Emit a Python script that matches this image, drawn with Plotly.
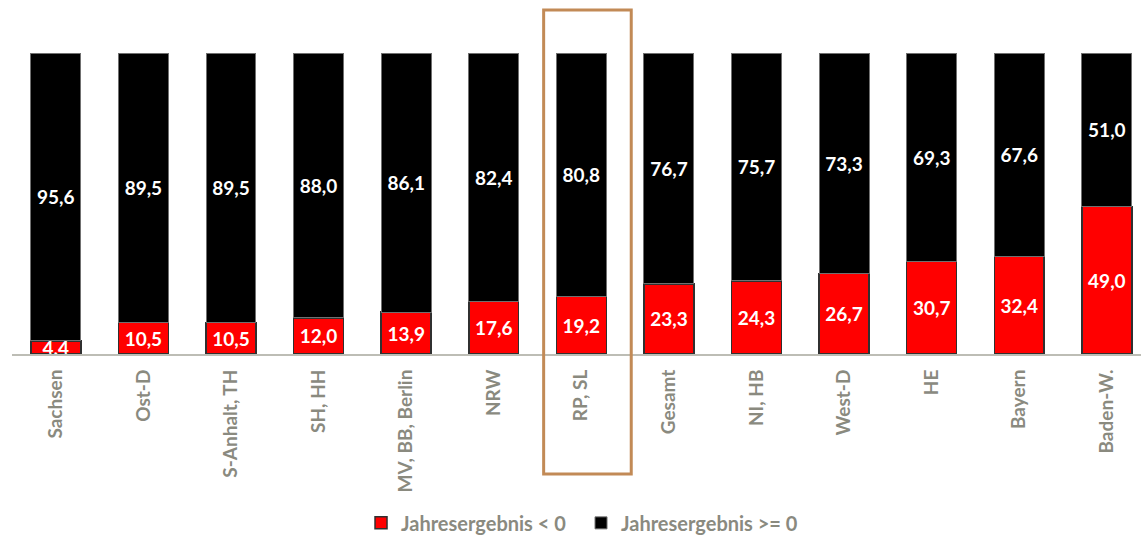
import plotly.graph_objects as go

# Share of entities by annual result, per region (percent)
regions = ["Sachsen", "Ost-D", "S-Anhalt, TH", "SH, HH", "MV, BB, Berlin", "NRW",
           "RP, SL", "Gesamt", "NI, HB", "West-D", "HE", "Bayern", "Baden-W."]
negative = [4.4, 10.5, 10.5, 12.0, 13.9, 17.6, 19.2, 23.3, 24.3, 26.7, 30.7, 32.4, 49.0]
non_negative = [95.6, 89.5, 89.5, 88.0, 86.1, 82.4, 80.8, 76.7, 75.7, 73.3, 69.3, 67.6, 51.0]
highlight = "RP, SL"

FONT = "Lato"
GREY = "#8a8a7f"


def de(v):
    return f"{v:.1f}".replace(".", ",")


x_idx = list(range(len(regions)))

fig = go.Figure()
fig.add_trace(go.Bar(
    x=x_idx, y=negative, name="Jahresergebnis < 0",
    marker=dict(color="#ff0000", line=dict(color="#303030", width=1.5)),
    text=[de(v) for v in negative], textposition="inside",
    insidetextanchor="middle", constraintext="none",
    textfont=dict(family=FONT, size=19, color="white", weight="bold"),
    cliponaxis=True,
))
fig.add_trace(go.Bar(
    x=x_idx, y=non_negative, name="Jahresergebnis >= 0",
    marker=dict(color="#000000", line=dict(color="#707070", width=1)),
    text=[de(v) for v in non_negative], textposition="inside",
    insidetextanchor="middle", constraintext="none",
    textfont=dict(family=FONT, size=19, color="white", weight="bold"),
))

hi = regions.index(highlight)
fig.add_shape(type="rect", xref="x", yref="paper",
              x0=hi - 0.43, x1=hi + 0.57, y0=-0.399, y1=1.143,
              line=dict(color="#c28a56", width=3), fillcolor="rgba(0,0,0,0)")

fig.update_layout(
    width=1141, height=536,
    margin=dict(l=12, r=0, t=53, b=182, autoexpand=False),
    barmode="stack", bargap=0.43,
    plot_bgcolor="white", paper_bgcolor="white",
    showlegend=True,
    legend=dict(orientation="h", x=0.504, xanchor="center", y=-0.561, yanchor="middle",
                font=dict(family=FONT, size=20, color=GREY, weight="bold"),
                itemwidth=30, entrywidth=175, traceorder="normal"),
    xaxis=dict(tickmode="array", tickvals=x_idx, ticktext=regions,
               range=[-0.5, 12.39], tickangle=-90, showgrid=False, automargin=False,
               showline=True, linecolor="#bdbdb5", linewidth=2,
               ticks="outside", ticklen=6, tickcolor="rgba(0,0,0,0)",
               tickfont=dict(family=FONT, size=19, color=GREY, weight="bold")),
    yaxis=dict(range=[0, 100], visible=False, showgrid=False, automargin=False),
)

fig.write_html("out.html")
